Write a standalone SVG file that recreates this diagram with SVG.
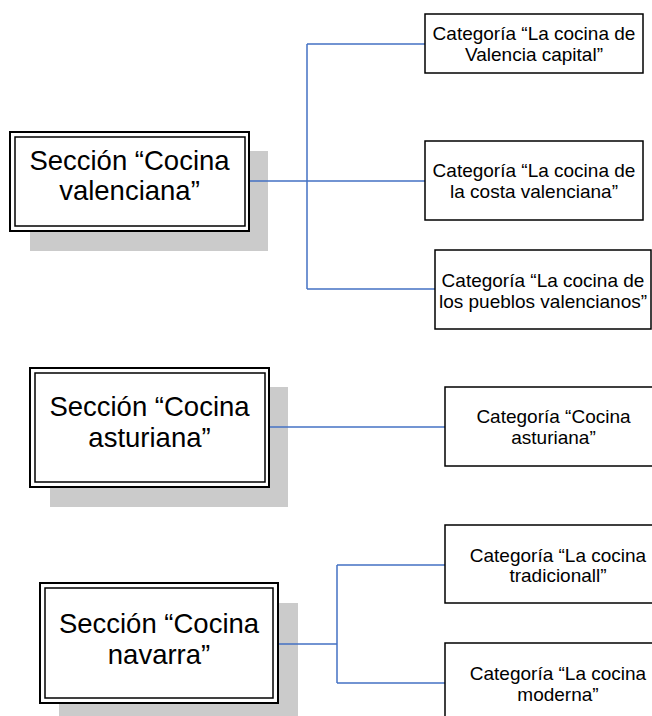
<svg xmlns="http://www.w3.org/2000/svg" width="652" height="716" viewBox="0 0 652 716">
<style>
.shadow{fill:#cbcbcb;stroke:none}
.outer{fill:#fff;stroke:#000;stroke-width:2}
.inner{fill:none;stroke:#000;stroke-width:1.5}
.cat{fill:#fff;stroke:#000;stroke-width:1.5}
.sec{font-family:"Liberation Sans",Arial,sans-serif;font-size:27.5px;fill:#000;text-anchor:middle}
.ct{font-family:"Liberation Sans",Arial,sans-serif;font-size:19px;fill:#000;text-anchor:middle}
.conn{fill:none;stroke:#4472C4;stroke-width:1.5}
</style>
<rect width="652" height="716" fill="#fff"/>
<g id="shadows">
<rect class="shadow" x="30" y="151" width="238" height="100"/>
<rect class="shadow" x="50" y="387" width="238" height="120"/>
<rect class="shadow" x="59" y="603" width="239" height="120"/>
</g>
<g id="connectors">
<path class="conn" d="M249,181 H425 M307,44 V289 M307,44 H425 M307,289 H435"/>
<path class="conn" d="M269,427 H445"/>
<path class="conn" d="M278,644 H337 M337,565 V683 M337,565 H445 M337,683 H445"/>
</g>
<g id="sec-valenciana">
<rect class="outer" x="10" y="132" width="239" height="99"/>
<rect class="inner" x="15" y="137" width="230" height="89"/>
<text class="sec" x="129.5" y="170">Sección “Cocina</text>
<text class="sec" x="129.5" y="200">valenciana”</text>
</g>
<g id="sec-asturiana">
<rect class="outer" x="30" y="368" width="239" height="119"/>
<rect class="inner" x="35" y="373" width="230" height="109"/>
<text class="sec" x="149.5" y="416">Sección “Cocina</text>
<text class="sec" x="149.5" y="447">asturiana”</text>
</g>
<g id="sec-navarra">
<rect class="outer" x="40" y="583" width="238" height="120"/>
<rect class="inner" x="45" y="588" width="228" height="110"/>
<text class="sec" x="159" y="633">Sección “Cocina</text>
<text class="sec" x="159" y="664">navarra”</text>
</g>
<g id="cat-valencia-capital">
<rect class="cat" x="425" y="14" width="218" height="59"/>
<text class="ct" x="534" y="40">Categoría “La cocina de</text>
<text class="ct" x="534" y="61">Valencia capital”</text>
</g>
<g id="cat-costa">
<rect class="cat" x="425" y="141" width="218" height="79"/>
<text class="ct" x="534" y="177">Categoría “La cocina de</text>
<text class="ct" x="534" y="198">la costa valenciana”</text>
</g>
<g id="cat-pueblos">
<rect class="cat" x="435" y="250" width="216" height="79"/>
<text class="ct" x="543" y="287">Categoría “La cocina de</text>
<text class="ct" x="543" y="308">los pueblos valencianos”</text>
</g>
<g id="cat-asturiana">
<rect class="cat" x="445" y="387" width="220" height="79"/>
<text class="ct" x="553.5" y="423">Categoría “Cocina</text>
<text class="ct" x="553.5" y="444">asturiana”</text>
</g>
<g id="cat-tradicional">
<rect class="cat" x="445" y="525" width="225" height="78"/>
<text class="ct" x="558" y="562">Categoría “La cocina</text>
<text class="ct" x="558" y="582">tradicionall”</text>
</g>
<g id="cat-moderna">
<rect class="cat" x="445" y="643" width="225" height="85"/>
<text class="ct" x="558" y="680">Categoría “La cocina</text>
<text class="ct" x="558" y="701">moderna”</text>
</g>
</svg>
